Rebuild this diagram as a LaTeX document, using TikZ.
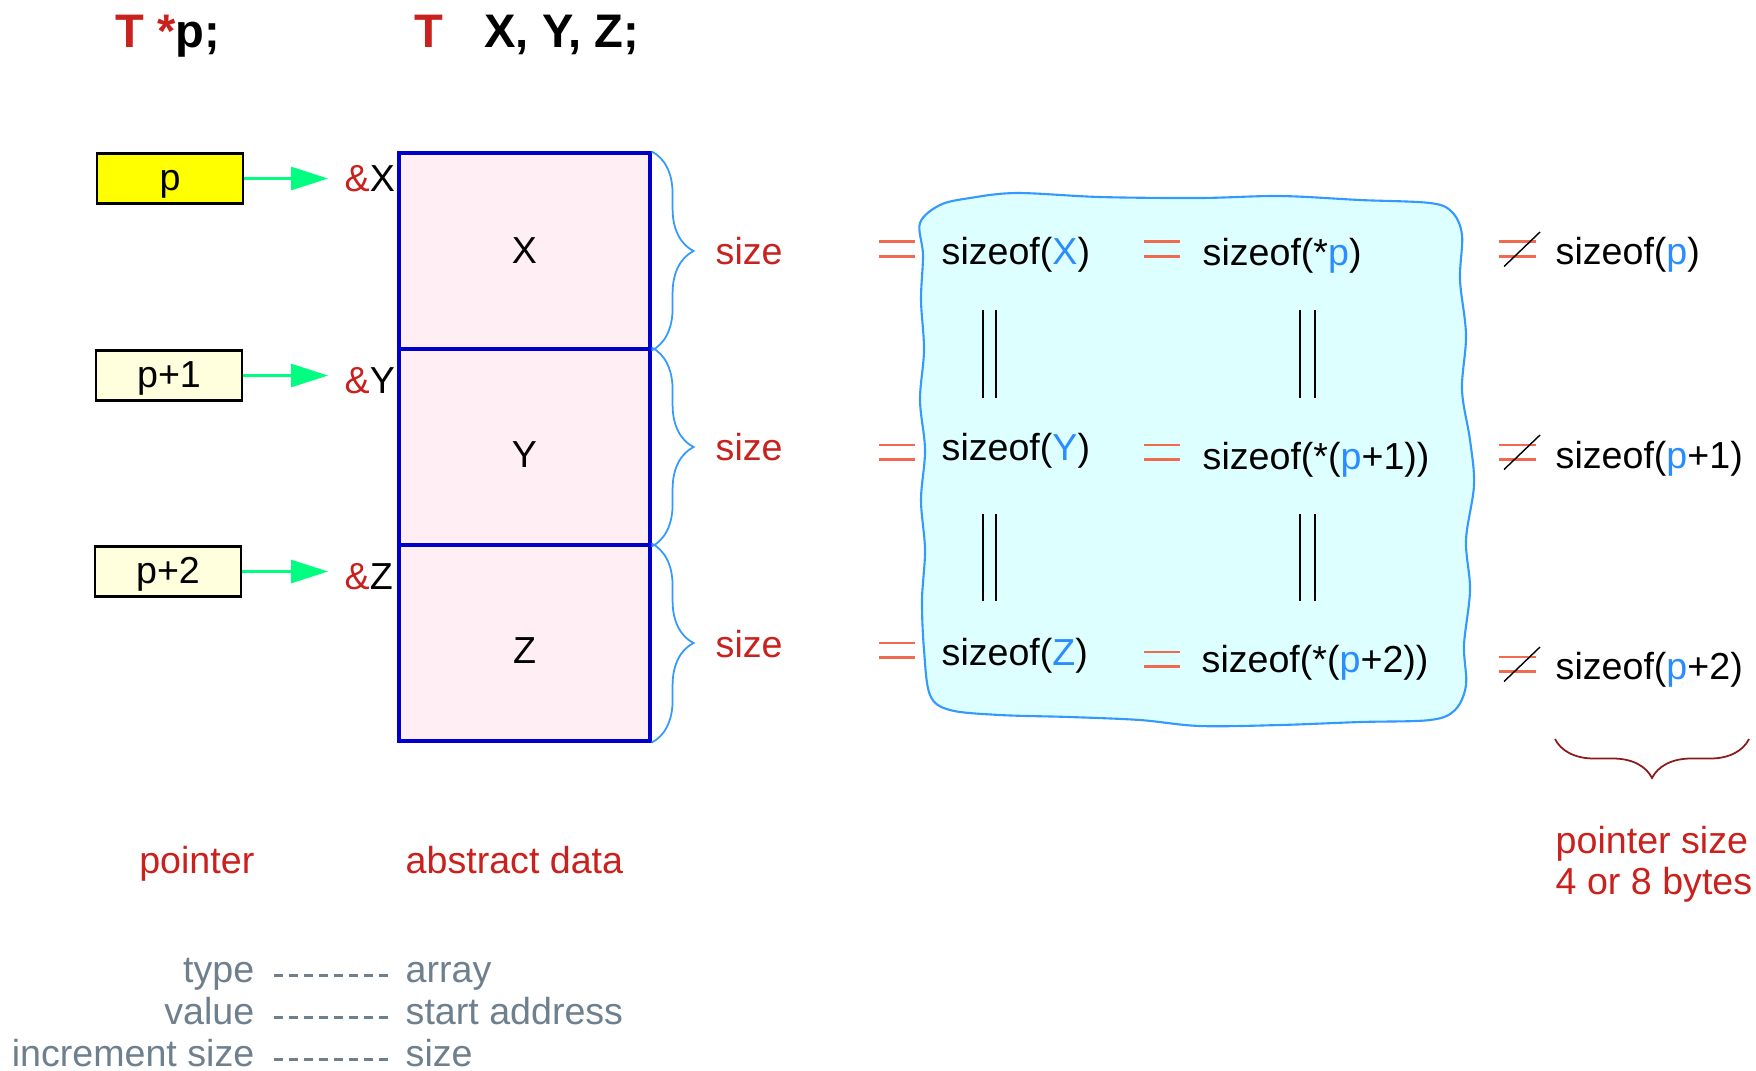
\documentclass[tikz,border=0pt]{standalone}
\usepackage{fontspec}
\setmainfont{Liberation Sans}
\usepackage{xcolor}
\usetikzlibrary{positioning,arrows.meta,decorations.pathreplacing}
\definecolor{codered}{HTML}{C9211E}
\definecolor{varblue}{HTML}{2A8CFF}
\definecolor{memblue}{HTML}{0000CC}
\definecolor{mempink}{HTML}{FFEEF3}
\definecolor{ptrgreen}{HTML}{00FF80}
\definecolor{ptryellow}{HTML}{FFFF00}
\definecolor{ptrpale}{HTML}{FFFFDD}
\definecolor{braceblue}{HTML}{3399FF}
\definecolor{eqred}{HTML}{F06A4E}
\definecolor{cloudfill}{HTML}{DDFFFF}
\definecolor{darkbrace}{HTML}{8B1A1A}
\definecolor{leggray}{HTML}{6E7F8E}
\tikzset{
  txt/.style    ={inner sep=0pt, font=\fontsize{10.7}{11.66}\selectfont},
  titletxt/.style={inner sep=0pt, font=\fontsize{13.4}{16}\selectfont\bfseries},
  legtxt/.style ={txt, text=leggray},
  ptrbox/.style ={txt, draw=black, line width=0.8pt, minimum width=1.46cm,
                  minimum height=0.50cm, text height=0.85em, text depth=0.18em},
  cell/.style   ={draw=memblue, fill=mempink, line width=0.9pt,
                  minimum width=2.51cm, minimum height=1.96cm, inner sep=0pt},
  ptrarrow/.style={draw=ptrgreen, line width=0.8pt, shorten >=0.16cm,
                  -{Triangle[length=0.37cm,width=0.23cm]}},
  sizebrace/.style={draw=braceblue, line width=0.5pt, decorate,
                  decoration={brace,amplitude=0.42cm}},
  ptrbrace/.style={draw=darkbrace, line width=0.5pt, decorate,
                  decoration={brace,amplitude=0.39cm}},
  eqbar/.style  ={draw=eqred, line width=0.75pt},
  slash/.style  ={draw=black, line width=0.4pt},
  dbar/.style   ={draw=black, line width=0.7pt},
  legdash/.style={draw=leggray, line width=1pt, dash pattern=on 0.09cm off 0.06cm},
}
\begin{document}
\begin{tikzpicture}
\useasboundingbox (0,0) rectangle (17.56,-10.70);
% --- declarations ---
\node[titletxt, anchor=base west] (declPtr) at (1.15,-0.475)
  {\textcolor{codered}{T *}p;};
\node[titletxt, anchor=base west] (declArr) at (4.14,-0.475)
  {\textcolor{codered}{T}\hspace{0.41cm}X, Y, Z;};
% --- pointers and the array cells ---
\node[ptrbox, fill=ptryellow] (ptr0) at (1.70,-1.785) {p};
\node[ptrbox, fill=ptrpale]   (ptr1) at (1.69,-3.755) {p+1};
\node[ptrbox, fill=ptrpale]   (ptr2) at (1.68,-5.715) {p+2};
\node[cell] (cellX) at (5.245,-2.51) {};
\node[cell] (cellY) at (5.245,-4.47) {};
\node[cell] (cellZ) at (5.245,-6.43) {};
\foreach \v/\y/\i/\d in {X/-1.79/0/0, Y/-3.81/1/0.08, Z/-5.77/2/0.08}{
  \node[txt] (lab\v) at ([yshift=-\d cm]cell\v.center) {\v};
  \node[txt, anchor=west] (addr\v) at (3.44,\y) {\textcolor{codered}{\&}\v};
  \draw[ptrarrow] (ptr\i.east) -- (ptr\i.east -| addr\v.west);
  \draw[sizebrace] (cell\v.north east) -- (cell\v.south east);
}
\node[txt, text=codered, anchor=west] (szX) at (7.15,-2.51) {size};
\node[txt, text=codered, anchor=west] (szY) at (7.15,-4.47) {size};
\node[txt, text=codered, anchor=west] (szZ) at (7.15,-6.44) {size};
% --- the cloud of equal sizes ---
\draw[draw=braceblue, fill=cloudfill, line width=0.6pt]
  plot[smooth cycle, tension=0.55] coordinates {
  (9.20,-2.23) (9.40,-2.05) (9.70,-1.98) (10.17,-1.93) (11.00,-1.97)
  (12.00,-1.98) (12.80,-1.96) (13.60,-2.00) (14.30,-2.03) (14.52,-2.12)
  (14.62,-2.35) (14.60,-2.80) (14.66,-3.35) (14.62,-3.90) (14.70,-4.40)
  (14.74,-4.85) (14.66,-5.40) (14.70,-5.90) (14.64,-6.45) (14.66,-6.85)
  (14.55,-7.10) (14.30,-7.20) (13.60,-7.22) (12.80,-7.25) (12.00,-7.26)
  (11.40,-7.20) (10.70,-7.17) (10.00,-7.15) (9.50,-7.10) (9.30,-6.95)
  (9.24,-6.50) (9.22,-6.00) (9.25,-5.50) (9.21,-5.00) (9.25,-4.50)
  (9.20,-4.00) (9.24,-3.50) (9.21,-3.00) (9.23,-2.55)};
\node[txt, anchor=west] (sX) at (9.41,-2.545) {sizeof(\textcolor{varblue}{X})};
\node[txt, anchor=west] (sY) at (9.41,-4.51) {sizeof(\textcolor{varblue}{Y})};
\node[txt, anchor=west] (sZ) at (9.41,-6.56) {sizeof(\textcolor{varblue}{Z})};
\node[txt, anchor=west] (dp0) at (12.02,-2.555) {sizeof(*\textcolor{varblue}{p})};
\node[txt, anchor=west] (dp1) at (12.02,-4.595) {sizeof(*(\textcolor{varblue}{p}+1))};
\node[txt, anchor=west] (dp2) at (12.01,-6.63) {sizeof(*(\textcolor{varblue}{p}+2))};
\foreach \x in {9.83,9.96,13.00,13.15}
  {\draw[dbar] (\x,-3.10) -- (\x,-3.98) (\x,-5.14) -- (\x,-6.01);}
% = and =/= signs
\foreach \x/\y in {8.79/-2.49, 8.79/-4.52, 8.79/-6.50,
                   11.44/-2.49, 11.44/-4.52, 11.44/-6.59}
  {\draw[eqbar] (\x,\y+0.072) -- ++(0.36,0) (\x,\y-0.072) -- ++(0.36,0);}
\foreach \y in {-2.49,-4.52,-6.64}{
  \draw[eqbar] (14.99,\y+0.072) -- ++(0.37,0) (14.99,\y-0.072) -- ++(0.37,0);
  \draw[slash] (15.04,\y-0.175) -- (15.40,\y+0.17);
}
% --- sizes of the pointers ---
\node[txt, anchor=west] (pp0) at (15.55,-2.545) {sizeof(\textcolor{varblue}{p})};
\node[txt, anchor=west] (pp1) at (15.55,-4.585) {sizeof(\textcolor{varblue}{p}+1)};
\node[txt, anchor=west] (pp2) at (15.55,-6.695) {sizeof(\textcolor{varblue}{p}+2)};
\draw[ptrbrace] (17.49,-7.39) -- (15.55,-7.39);
\node[txt, text=codered, anchor=west, align=left] (ptrSize) at (15.55,-8.64)
  {pointer size\\4 or 8 bytes};
% --- legend ---
\node[txt, text=codered, anchor=base east] (lblPtr)  at (2.55,-8.737) {pointer};
\node[txt, text=codered, anchor=base west] (lblData) at (4.05,-8.737) {abstract data};
\foreach \k/\v/\y/\n in {type/array/-9.825/1, value/start address/-10.245/2,
                         increment size/size/-10.665/3}{
  \node[legtxt, anchor=base east] (key\n) at (2.55,\y) {\k};
  \node[legtxt, anchor=base west] (val\n) at (4.05,\y) {\v};
  \draw[legdash, shorten <=0.19cm, shorten >=0.13cm]
    ([yshift=0.07cm]key\n.base east) -- ([yshift=0.07cm]val\n.base west);
}
\end{tikzpicture}
\end{document}
